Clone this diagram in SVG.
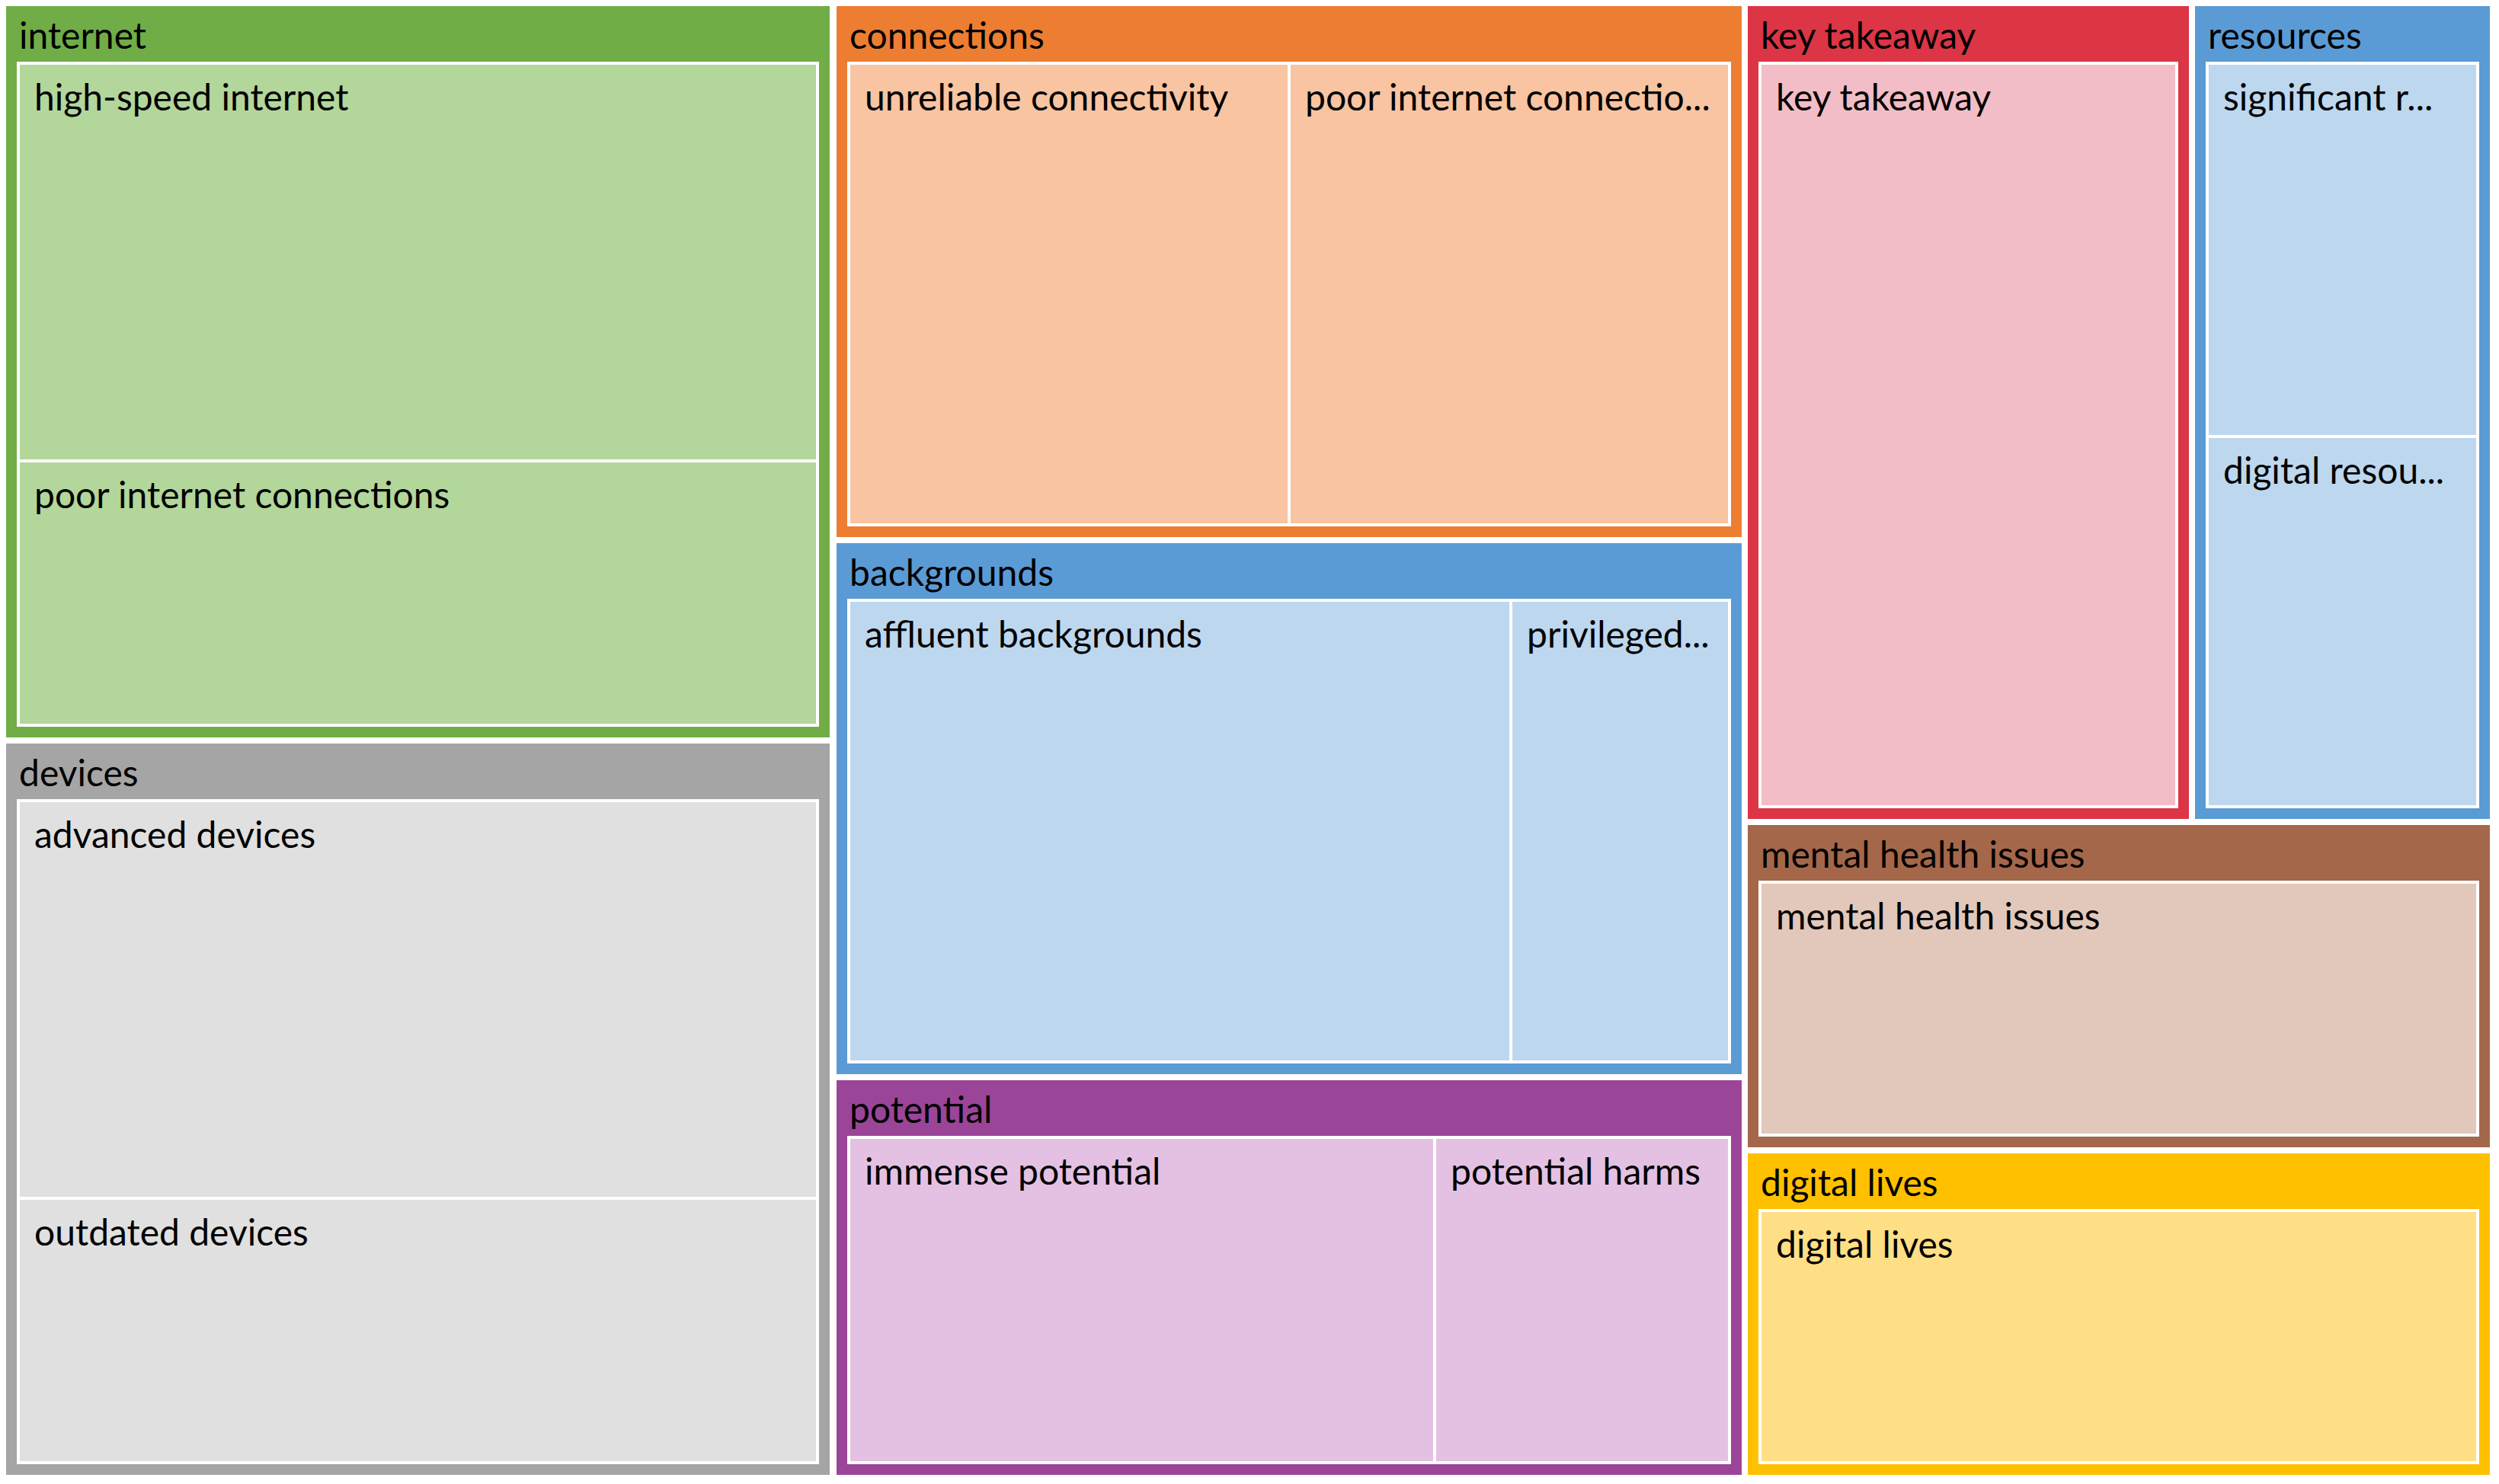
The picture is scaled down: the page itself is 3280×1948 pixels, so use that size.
<svg xmlns="http://www.w3.org/2000/svg" width="3280" height="1948" viewBox="0 0 3280 1948">
<style>
  text { font-family: Lato, "Liberation Sans", sans-serif; font-size: 48px; fill: #000; }
  .leaf { stroke: #fff; stroke-width: 4; }
</style>
<rect x="0" y="0" width="3280" height="1948" fill="#fff"/>
<g id="internet">
  <rect x="8" y="8" width="1081" height="960" fill="#70AD47"/>
  <text x="25" y="64">internet</text>
  <g id="high-speed-internet">
    <rect class="leaf" x="24" y="83" width="1049" height="522" fill="#B3D69B"/>
    <text x="45" y="145">high-speed internet</text>
  </g>
  <g id="poor-internet-connections">
    <rect class="leaf" x="24" y="605" width="1049" height="347" fill="#B3D69B"/>
    <text x="45" y="667">poor internet connections</text>
  </g>
</g>
<g id="devices">
  <rect x="8" y="976" width="1081" height="960" fill="#A5A5A5"/>
  <text x="25" y="1032">devices</text>
  <g id="advanced-devices">
    <rect class="leaf" x="24" y="1051" width="1049" height="522" fill="#E0E0E0"/>
    <text x="45" y="1113">advanced devices</text>
  </g>
  <g id="outdated-devices">
    <rect class="leaf" x="24" y="1573" width="1049" height="347" fill="#E0E0E0"/>
    <text x="45" y="1635">outdated devices</text>
  </g>
</g>
<g id="connections">
  <rect x="1098" y="8" width="1188" height="697" fill="#ED7D31"/>
  <text x="1115" y="64">connections</text>
  <g id="unreliable-connectivity">
    <rect class="leaf" x="1114" y="83" width="578" height="606" fill="#F8C4A1"/>
    <text x="1135" y="145">unreliable connectivity</text>
  </g>
  <g id="poor-internet-connections-2">
    <rect class="leaf" x="1692" y="83" width="578" height="606" fill="#F8C4A1"/>
    <text x="1713" y="145">poor internet connectio...</text>
  </g>
</g>
<g id="backgrounds">
  <rect x="1098" y="713" width="1188" height="697" fill="#5B9BD5"/>
  <text x="1115" y="769">backgrounds</text>
  <g id="affluent-backgrounds">
    <rect class="leaf" x="1114" y="788" width="869" height="606" fill="#BDD7EE"/>
    <text x="1135" y="850">affluent backgrounds</text>
  </g>
  <g id="privileged">
    <rect class="leaf" x="1983" y="788" width="287" height="606" fill="#BDD7EE"/>
    <text x="2004" y="850">privileged...</text>
  </g>
</g>
<g id="potential">
  <rect x="1098" y="1418" width="1188" height="518" fill="#9B4599"/>
  <text x="1115" y="1474">potential</text>
  <g id="immense-potential">
    <rect class="leaf" x="1114" y="1493" width="769" height="427" fill="#E4C1E3"/>
    <text x="1135" y="1555">immense potential</text>
  </g>
  <g id="potential-harms">
    <rect class="leaf" x="1883" y="1493" width="387" height="427" fill="#E4C1E3"/>
    <text x="1904" y="1555">potential harms</text>
  </g>
</g>
<g id="key-takeaway">
  <rect x="2294" y="8" width="579" height="1067" fill="#DC3545"/>
  <text x="2311" y="64">key takeaway</text>
  <g id="key-takeaway-leaf">
    <rect class="leaf" x="2310" y="83" width="547" height="976" fill="#F2BDC6"/>
    <text x="2331" y="145">key takeaway</text>
  </g>
</g>
<g id="resources">
  <rect x="2881" y="8" width="387" height="1067" fill="#5B9BD5"/>
  <text x="2898" y="64">resources</text>
  <g id="significant-resources">
    <rect class="leaf" x="2897" y="83" width="355" height="490" fill="#BDD7EE"/>
    <text x="2918" y="145">significant r...</text>
  </g>
  <g id="digital-resources">
    <rect class="leaf" x="2897" y="573" width="355" height="486" fill="#BDD7EE"/>
    <text x="2918" y="635">digital resou...</text>
  </g>
</g>
<g id="mental-health-issues">
  <rect x="2294" y="1083" width="974" height="423" fill="#A5674A"/>
  <text x="2311" y="1139">mental health issues</text>
  <g id="mental-health-issues-leaf">
    <rect class="leaf" x="2310" y="1158" width="942" height="332" fill="#E2C8BA"/>
    <text x="2331" y="1220">mental health issues</text>
  </g>
</g>
<g id="digital-lives">
  <rect x="2294" y="1514" width="974" height="422" fill="#FFC000"/>
  <text x="2311" y="1570">digital lives</text>
  <g id="digital-lives-leaf">
    <rect class="leaf" x="2310" y="1589" width="942" height="331" fill="#FFDF85"/>
    <text x="2331" y="1651">digital lives</text>
  </g>
</g>
<g id="connectors"></g>
</svg>
